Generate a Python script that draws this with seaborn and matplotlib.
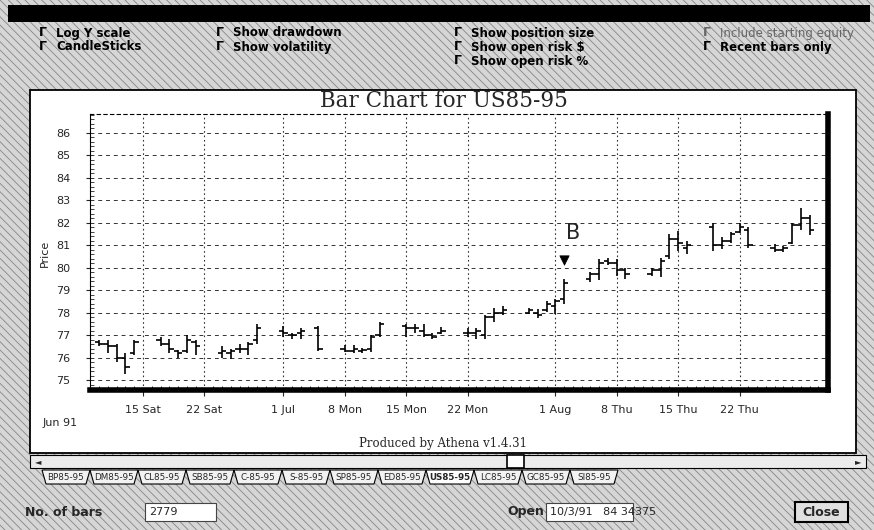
import numpy as np
import pandas as pd
import matplotlib
matplotlib.use("Agg")
import matplotlib.pyplot as plt
import matplotlib.dates as mdates
from matplotlib.patches import Rectangle, Polygon
from matplotlib.ticker import MultipleLocator
import seaborn as sns

# INPUT - daily bars, US85-95, summer 1991
days = ["06-10", "06-11", "06-12", "06-13", "06-14",
        "06-17", "06-18", "06-19", "06-20", "06-21",
        "06-24", "06-25", "06-26", "06-27", "06-28",
        "07-01", "07-02", "07-03", "07-05",
        "07-08", "07-09", "07-10", "07-11", "07-12",
        "07-15", "07-16", "07-17", "07-18", "07-19",
        "07-22", "07-23", "07-24", "07-25", "07-26",
        "07-29", "07-30", "07-31", "08-01", "08-02",
        "08-05", "08-06", "08-07", "08-08", "08-09",
        "08-12", "08-13", "08-14", "08-15", "08-16",
        "08-19", "08-20", "08-21", "08-22", "08-23",
        "08-26", "08-27", "08-28", "08-29", "08-30"]
opens = [76.7, 76.6, 76.5, 76.0, 76.2,
         76.8, 76.6, 76.3, 76.3, 76.7,
         76.2, 76.2, 76.4, 76.4, 76.8,
         77.2, 77.0, 77.1, 77.3,
         76.4, 76.3, 76.3, 76.4, 77.0,
         77.4, 77.3, 77.2, 77.0, 77.1,
         77.1, 77.1, 77.0, 77.8, 78.0,
         78.0, 78.0, 78.1, 78.3, 78.6,
         79.5, 79.7, 80.3, 80.2, 79.9,
         79.7, 79.9, 80.5, 81.3, 80.9,
         81.8, 81.0, 81.2, 81.6, 81.7,
         80.9, 80.8, 81.1, 81.9, 82.2]
highs = [76.8, 76.8, 76.6, 76.2, 76.8,
         76.9, 76.85, 76.35, 77.0, 76.8,
         76.5, 76.4, 76.6, 76.7, 77.5,
         77.4, 77.1, 77.3, 77.4,
         76.55, 76.55, 76.45, 77.0, 77.6,
         77.5, 77.5, 77.5, 77.1, 77.35,
         77.3, 77.3, 77.9, 78.2, 78.3,
         78.2, 78.15, 78.5, 78.6, 79.5,
         79.8, 80.4, 80.45, 80.4, 80.0,
         80.0, 80.45, 81.5, 81.65, 81.2,
         82.0, 81.35, 81.6, 82.0, 81.8,
         81.05, 80.95, 82.0, 82.65, 82.35]
lows = [76.5, 76.2, 75.8, 75.25, 76.1,
        76.5, 76.2, 76.0, 76.2, 76.1,
        76.0, 75.95, 76.2, 76.1, 76.6,
        76.9, 76.85, 76.85, 76.3,
        76.25, 76.2, 76.2, 76.25, 76.9,
        76.9, 77.1, 76.9, 76.85, 77.05,
        76.9, 76.85, 76.85, 77.6, 77.9,
        77.95, 77.75, 78.05, 77.95, 78.4,
        79.35, 79.45, 80.1, 79.65, 79.5,
        79.65, 79.6, 80.4, 80.75, 80.6,
        80.75, 80.85, 81.1, 81.55, 80.9,
        80.7, 80.7, 81.05, 81.7, 81.45]
closes = [76.6, 76.5, 76.0, 75.6, 76.7,
          76.6, 76.4, 76.2, 76.8, 76.5,
          76.3, 76.3, 76.4, 76.6, 77.3,
          77.1, 77.0, 77.2, 76.4,
          76.3, 76.4, 76.35, 76.9, 77.5,
          77.3, 77.3, 77.0, 76.9, 77.2,
          77.1, 77.2, 77.8, 78.0, 78.1,
          78.1, 77.9, 78.4, 78.5, 79.3,
          79.7, 80.2, 80.2, 79.9, 79.7,
          79.9, 80.3, 81.3, 81.1, 81.0,
          81.0, 81.2, 81.5, 81.8, 81.0,
          80.8, 80.9, 81.9, 82.2, 81.7]

grid_days = ["06-15", "06-22", "07-01", "07-08", "07-15", "07-22", "08-01", "08-08", "08-15", "08-22"]
grid_labels = ["15 Sat", "22 Sat", "1 Jul", "8 Mon", "15 Mon", "22 Mon", "1 Aug", "8 Thu", "15 Thu", "22 Thu"]
price_ticks = [75, 76, 77, 78, 79, 80, 81, 82, 83, 84, 85, 86]
price_labels = ["75", "76", "77", "78", "79", "80", "81", "82", "83", "84", "85", "86"]
signal_day, signal_price, signal_label = "08-02", 80.35, "B"
signal_text_day, signal_text_price = "08-03", 81.55

tabs = ["BP85-95", "DM85-95", "CL85-95", "SB85-95", "C-85-95", "S-85-95",
        "SP85-95", "ED85-95", "US85-95", "LC85-95", "GC85-95", "SI85-95"]
active_tab = "US85-95"
options_row1 = ["Log Y scale", "Show drawdown", "Show position size", "Include starting equity"]
options_row2 = ["CandleSticks", "Show volatility", "Show open risk $", "Recent bars only"]
options_row3 = ["", "", "Show open risk %", ""]

df = pd.DataFrame({"date": pd.to_datetime(["1991-" + d for d in days]),
                   "open": opens, "high": highs, "low": lows, "close": closes})
ticks_df = df.melt(id_vars="date", value_vars=["open", "close"], var_name="kind", value_name="price")

sns.set_theme(style="white")
plt.rcParams["font.family"] = ["DejaVu Sans"]
plt.rcParams["hatch.linewidth"] = 0.6

fig = plt.figure(figsize=(8.74, 5.30), dpi=100)

# screen background in pixel coordinates
bg = fig.add_axes([0, 0, 1, 1])
bg.set_zorder(0)
bg.set_xlim(0, 874)
bg.set_ylim(530, 0)
bg.axis("off")
bg.add_patch(Rectangle((0, 0), 874, 530, facecolor="#d6d6d6", edgecolor="#858585",
                       hatch="\\\\\\\\", lw=0))
bg.add_patch(Rectangle((8, 5), 862, 17, facecolor="black", edgecolor="none"))

# option check boxes
col_x = [39, 216, 454, 703]
for row_y, row in zip([33, 47, 61], [options_row1, options_row2, options_row3]):
    for cx, txt in zip(col_x, row):
        if not txt:
            continue
        disabled = txt == "Include starting equity"
        c = "#666666" if disabled else "black"
        bg.text(cx, row_y, "Γ", fontsize=9, fontweight="bold", color=c, va="center", ha="left")
        bg.text(cx + 17, row_y, txt, fontsize=8.5, fontweight="normal" if disabled else "bold",
                color=c, va="center", ha="left")

# chart window
bg.add_patch(Rectangle((30, 90), 826, 363, facecolor="white", edgecolor="black", lw=1.3))
bg.text(444, 101, "Bar Chart for US85-95", family="DejaVu Serif", fontsize=15.5,
        ha="center", va="center")
bg.text(45, 253, "Price", fontsize=8, rotation=90, ha="center", va="center")
bg.text(43, 423, "Jun 91", fontsize=8, ha="left", va="center")
bg.text(443, 443, "Produced by Athena v1.4.31", family="DejaVu Serif", fontsize=8.5,
        ha="center", va="center")

# scroll bar
bg.add_patch(Rectangle((30, 455), 836, 13, facecolor="#ececec", edgecolor="black", lw=0.8))
bg.text(38, 461.5, "◄", fontsize=6, ha="center", va="center")
bg.text(858, 461.5, "►", fontsize=6, ha="center", va="center")
bg.add_patch(Rectangle((507, 455), 17, 13, facecolor="white", edgecolor="black", lw=1.2))

# sheet tabs
tab_w = 48
for i, name in enumerate(tabs):
    x0 = 42 + i * tab_w
    on = name == active_tab
    bg.add_patch(Polygon([(x0, 470), (x0 + tab_w, 470), (x0 + tab_w - 4, 484), (x0 + 4, 484)],
                         closed=True, facecolor="white" if on else "#f2f2f2",
                         edgecolor="black", lw=0.8))
    bg.text(x0 + tab_w / 2, 477, name, fontsize=6.3, ha="center", va="center",
            fontweight="bold" if on else "normal")

# bottom controls
bg.text(25, 512, "No. of bars", fontsize=9, fontweight="bold", ha="left", va="center")
bg.add_patch(Rectangle((145, 503), 71, 18, facecolor="white", edgecolor="#444444", lw=0.8))
bg.text(149, 512, "2779", fontsize=8, ha="left", va="center")
bg.text(507, 512, "Open", fontsize=9, fontweight="bold", ha="left", va="center")
bg.add_patch(Rectangle((546, 503), 87, 18, facecolor="white", edgecolor="#444444", lw=0.8))
bg.text(550, 512, "10/3/91   84 34375", fontsize=8, ha="left", va="center")
bg.add_patch(Rectangle((795, 502), 53, 20, facecolor="#e0e0e0", edgecolor="black", lw=1.5))
bg.text(821, 512, "Close", fontsize=9, fontweight="bold", ha="center", va="center")

# price chart
ax = fig.add_axes([90 / 874, 1 - 390 / 530, 738 / 874, 276 / 530])
ax.set_zorder(1)
ax.set_facecolor("white")
ax.vlines(df["date"], df["low"], df["high"], color="black", lw=1.2, zorder=3)
sns.scatterplot(data=ticks_df, x="date", y="price", style="kind",
                markers={"open": 0, "close": 1}, color="black", s=10,
                linewidth=1.2, legend=False, ax=ax, zorder=3)
sns.scatterplot(x=[pd.Timestamp("1991-" + signal_day)], y=[signal_price], marker="v",
                color="black", s=45, edgecolor="black", legend=False, ax=ax, zorder=4)
ax.text(pd.Timestamp("1991-" + signal_text_day), signal_text_price, signal_label,
        fontsize=15, ha="center", va="center")

ax.set_xlim(pd.Timestamp("1991-06-08 23:00"), pd.Timestamp("1991-09-01 02:00"))
ax.set_ylim(74.56, 86.84)
ax.set_xticks(pd.to_datetime(["1991-" + d for d in grid_days]))
ax.set_xticklabels(grid_labels)
ax.set_yticks(price_ticks)
ax.set_yticklabels(price_labels)
ax.xaxis.set_minor_locator(mdates.DayLocator())
ax.yaxis.set_minor_locator(MultipleLocator(0.2))
ax.set_xlabel("")
ax.set_ylabel("")
ax.tick_params(axis="x", which="major", direction="out", length=4, width=0.8, pad=7,
               labelsize=8, bottom=True)
ax.tick_params(axis="x", which="minor", direction="in", length=3, width=0.7, bottom=True)
ax.tick_params(axis="y", which="major", direction="out", length=3, width=0.8, pad=11,
               labelsize=8, left=True)
ax.tick_params(axis="y", which="minor", direction="in", length=3, width=0.6, left=True)
ax.grid(True, which="major", axis="y", color="#333333", lw=0.7, ls=(0, (4, 4)))
ax.grid(True, which="major", axis="x", color="#333333", lw=0.8, ls=(0, (1.5, 2.5)))
for side in ["left", "top"]:
    ax.spines[side].set_color("black")
    ax.spines[side].set_linewidth(0.8)
ax.spines["top"].set_linestyle((0, (3, 3)))
for side in ["right", "bottom"]:
    ax.spines[side].set_color("black")
    ax.spines[side].set_linewidth(4)

fig.savefig("out.png", dpi=100)
